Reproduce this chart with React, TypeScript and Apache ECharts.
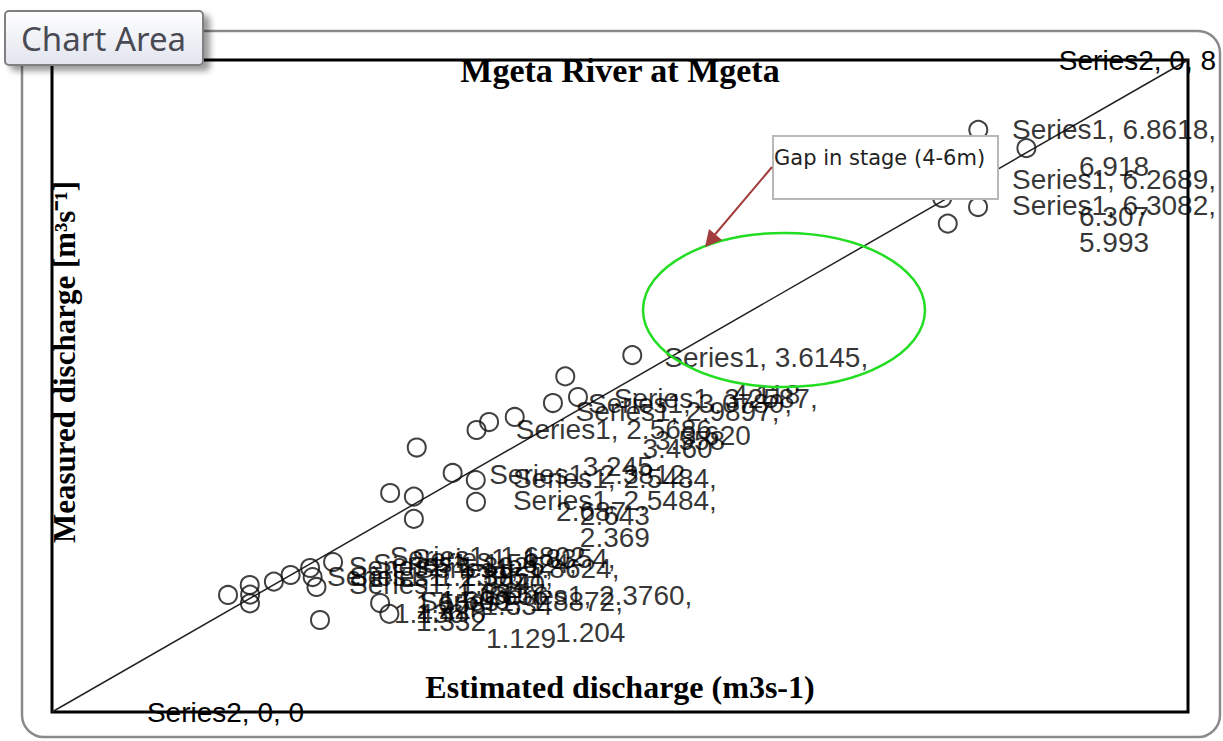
import React, { useEffect, useRef } from "react";
import * as echarts from "echarts";

// ---------- data ----------
const chartTitle = "Mgeta River at Mgeta";
const xAxisTitle = "Estimated discharge (m3s-1)";
const yAxisTitle = "Measured discharge [m³s⁻¹]";
const series1Name = "Series1";
const series2Name = "Series2";

const estimatedQ = [
  6.5231, 6.8618, 6.2689, 6.5214, 6.3082,
  4.0863, 3.6145, 3.5276, 3.7041, 3.2587, 3.078, 2.9897, 2.5686, 2.8214,
  2.9843, 2.986, 2.3812, 2.5484, 2.5484,
  1.2396, 1.3925, 1.3951, 1.394, 1.5624, 1.6802, 1.8176, 1.8354, 1.8624,
  1.9793, 1.8872, 2.3105, 2.376,
];
const measuredQ = [
  7.143, 6.918, 6.307, 6.196, 5.993,
  4.378, 4.118, 3.791, 3.865, 3.62, 3.558, 3.46, 3.245, 2.933,
  2.846, 2.578, 2.687, 2.643, 2.369,
  1.436, 1.558, 1.44, 1.332, 1.6, 1.681, 1.767, 1.656, 1.534,
  1.84, 1.129, 1.337, 1.204,
];
// which points carry a data label in the reference (1 = labelled)
const pointLabelled = [
  0, 1, 1, 0, 1,
  0, 1, 0, 0, 1, 1, 1, 1, 0,
  0, 0, 1, 1, 1,
  1, 1, 1, 1, 1, 1, 0, 1, 1,
  0, 1, 0, 1,
];
const lineX = [0, 8];
const lineY = [0, 8];
const lineLabelX = [0, 0];
const axisMin = 0;
const axisMax = 8;
const calloutText = "Gap in stage (4-6m)";
const chartAreaText = "Chart Area";

// ---------- layout ----------
const W = 1223;
const H = 741;
const GRID = { left: 52, top: 60, right: W - 1188, bottom: H - 712 };
const LABEL_RIGHT_LIMIT = 1216;

export default function App() {
  const ref = useRef<HTMLDivElement>(null);
  useEffect(() => {
    if (!ref.current) return;
    const chart = echarts.init(ref.current, null, { renderer: "svg" });
    const pts = estimatedQ.map((x, i) => ({
      value: [x, measuredQ[i]],
      label: { show: pointLabelled[i] === 1 },
    }));
    const linePts = lineX.map((x, i) => [x, lineY[i]]);
    const labelFont = { fontFamily: "Liberation Sans", fontSize: 28, lineHeight: 37, color: "#000" };

    chart.setOption({
      animation: false,
      backgroundColor: "#fff",
      title: {
        text: chartTitle,
        left: 620,
        top: 53,
        padding: 0,
        textAlign: "center",
        textStyle: { fontFamily: "Liberation Serif", fontWeight: "bold", fontSize: 34, lineHeight: 34, color: "#000" },
      },
      grid: { ...GRID, show: true, borderColor: "#000", borderWidth: 3, backgroundColor: "transparent" },
      xAxis: {
        type: "value",
        min: axisMin,
        max: axisMax,
        axisLine: { show: false },
        axisTick: { show: false },
        axisLabel: { show: false },
        splitLine: { show: false },
        name: xAxisTitle,
        nameLocation: "middle",
        nameGap: -25,
        nameTextStyle: {
          fontFamily: "Liberation Serif",
          fontWeight: "bold",
          fontSize: 32,
          lineHeight: 32,
          color: "#000",
          verticalAlign: "middle",
        },
      },
      yAxis: {
        type: "value",
        min: axisMin,
        max: axisMax,
        axisLine: { show: false },
        axisTick: { show: false },
        axisLabel: { show: false },
        splitLine: { show: false },
      },
      labelLayout: (p: any) => {
        const r = p.labelRect;
        const over = r.x + r.width - LABEL_RIGHT_LIMIT;
        return over > 0 ? { dx: -over } : {};
      },
      series: [
        {
          name: series2Name,
          type: "line",
          data: linePts,
          symbol: "circle",
          symbolSize: 1,
          showSymbol: true,
          itemStyle: { color: "#222" },
          lineStyle: { color: "#222", width: 1.5 },
          z: 1,
          label: {
            show: true,
            position: "right",
            distance: 173,
            align: "center",
            verticalAlign: "middle",
            ...labelFont,
            formatter: (p: any) => `${series2Name}, ${lineLabelX[p.dataIndex]}, ${p.value[1]}`,
          },
        },
        {
          name: series1Name,
          type: "scatter",
          data: pts,
          symbol: "circle",
          symbolSize: 18,
          itemStyle: { color: "rgba(0,0,0,0)", borderColor: "#111", borderWidth: 2 },
          z: 2,
          label: {
            position: "right",
            distance: 191,
            align: "center",
            verticalAlign: "middle",
            ...labelFont,
            formatter: (p: any) =>
              `${series1Name}, ${Number(p.value[0]).toFixed(4)},\n${Number(p.value[1]).toFixed(3)}`,
          },
        },
      ],
      graphic: [
        // chart area outline
        {
          type: "rect",
          shape: { x: 22, y: 31, width: 1198, height: 706, r: 22 },
          style: { fill: "none", stroke: "#8a8a8a", lineWidth: 2.5 },
          z: -10,
          silent: true,
        },
        // "Chart Area" tooltip button
        {
          type: "rect",
          shape: { x: 5, y: 11, width: 198, height: 54, r: 4 },
          style: {
            fill: new echarts.graphic.LinearGradient(0, 0, 0, 1, [
              { offset: 0, color: "#ffffff" },
              { offset: 1, color: "#e2e4ee" },
            ]),
            stroke: "#808080",
            lineWidth: 2,
            shadowBlur: 6,
            shadowOffsetX: 6,
            shadowOffsetY: 5,
            shadowColor: "rgba(0,0,0,0.4)",
          },
          z: 100,
        },
        {
          type: "text",
          x: 21,
          y: 38,
          style: {
            text: chartAreaText,
            font: "33px 'Noto Sans'",
            fill: "#4a4a55",
            align: "left",
            verticalAlign: "middle",
          },
          z: 101,
        },
        // y axis title
        {
          type: "text",
          x: 64,
          y: 362,
          rotation: Math.PI / 2,
          style: {
            text: yAxisTitle,
            font: "bold 31px 'Liberation Serif'",
            fill: "#000",
            align: "center",
            verticalAlign: "middle",
          },
          z: 50,
        },
        // green ellipse
        {
          type: "ellipse",
          shape: { cx: 784, cy: 310, rx: 141, ry: 77 },
          style: { fill: "none", stroke: "#22dd22", lineWidth: 2.5 },
          z: 60,
        },
        // callout box
        {
          type: "rect",
          shape: { x: 773, y: 136, width: 225, height: 63 },
          style: { fill: "#fff", stroke: "#b8b8b8", lineWidth: 2 },
          z: 70,
        },
        {
          type: "text",
          x: 774,
          y: 158,
          style: {
            text: calloutText,
            font: "21px 'DejaVu Sans'",
            fill: "#222",
            align: "left",
            verticalAlign: "middle",
          },
          z: 71,
        },
        // arrow
        {
          type: "line",
          shape: { x1: 772, y1: 167, x2: 712, y2: 238 },
          style: { stroke: "#a33c3c", lineWidth: 2 },
          z: 72,
        },
        {
          type: "polygon",
          shape: { points: [[705, 247], [709, 229], [722, 240]] },
          style: { fill: "#a33c3c" },
          z: 72,
        },
      ],
    });
    return () => chart.dispose();
  }, []);
  return (
    <div
      ref={ref}
      style={{ position: "absolute", left: 0, top: 0, width: W, height: H, background: "#fff" }}
    />
  );
}
